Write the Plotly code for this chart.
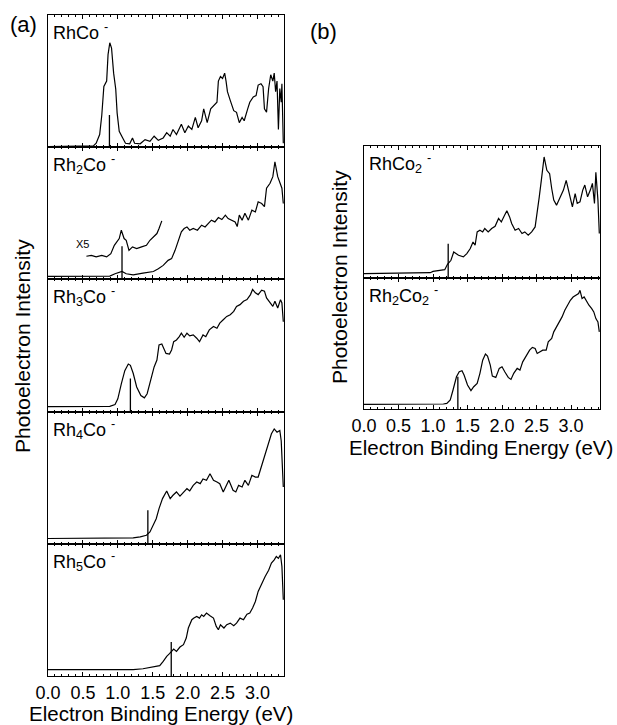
import plotly.graph_objects as go

# ---------------- data (eV, normalised intensity within each panel) ----------------
rhco_e = [0.0, 0.3, 0.5, 0.6, 0.65, 0.69, 0.74, 0.77, 0.80, 0.84, 0.86, 0.885, 0.91, 0.94, 0.97, 0.99, 1.02,
          1.07, 1.11, 1.17, 1.21, 1.24, 1.32, 1.39, 1.46, 1.52, 1.58, 1.65, 1.70, 1.75, 1.79, 1.84, 1.91,
          1.96, 2.01, 2.06, 2.11, 2.15, 2.20, 2.23, 2.28, 2.33, 2.37, 2.42, 2.44, 2.47, 2.50, 2.53, 2.55,
          2.57, 2.61, 2.66, 2.70, 2.74, 2.78, 2.81, 2.86, 2.89, 2.94, 2.98, 3.01, 3.05, 3.08, 3.10, 3.13,
          3.16, 3.19, 3.22, 3.24, 3.26, 3.28, 3.30, 3.32, 3.34, 3.35, 3.37]
rhco_i = [0.005, 0.008, 0.012, 0.008, 0.01, 0.03, 0.096, 0.24, 0.46, 0.50, 0.70, 0.79, 0.75, 0.56, 0.44, 0.26,
          0.12, 0.07, 0.03, 0.026, 0.07, 0.03, 0.026, 0.057, 0.044, 0.083, 0.052, 0.07, 0.11, 0.083, 0.134,
          0.096, 0.173, 0.11, 0.16, 0.134, 0.225, 0.147, 0.2, 0.29, 0.186, 0.29, 0.315, 0.34, 0.50, 0.535,
          0.52, 0.56, 0.50, 0.42, 0.354, 0.276, 0.264, 0.186, 0.225, 0.2, 0.29, 0.34, 0.38, 0.39, 0.47, 0.48,
          0.457, 0.29, 0.264, 0.444, 0.548, 0.50, 0.56, 0.42, 0.50, 0.134, 0.444, 0.34, 0.48, 0.03]

rh2co_e = [0.0, 0.5, 0.885, 0.96, 1.06, 1.12, 1.22, 1.36, 1.51, 1.58, 1.65, 1.72, 1.77, 1.82, 1.87, 1.91, 1.95,
           1.99, 2.03, 2.08, 2.14, 2.20, 2.25, 2.30, 2.34, 2.39, 2.44, 2.49, 2.54, 2.58, 2.63, 2.68, 2.71,
           2.74, 2.78, 2.82, 2.87, 2.92, 2.97, 3.01, 3.06, 3.10, 3.13, 3.18, 3.22, 3.25, 3.29, 3.33, 3.35, 3.37]
rh2co_i = [0.023, 0.023, 0.025, 0.043, 0.06, 0.043, 0.035, 0.048, 0.06, 0.081, 0.106, 0.144, 0.157, 0.22, 0.296,
           0.36, 0.385, 0.397, 0.372, 0.385, 0.372, 0.41, 0.397, 0.423, 0.448, 0.435, 0.468, 0.453, 0.486,
           0.46, 0.448, 0.435, 0.40, 0.486, 0.448, 0.50, 0.448, 0.524, 0.51, 0.587, 0.574, 0.55, 0.69, 0.727,
           0.777, 0.89, 0.777, 0.727, 0.69, 0.574]

rh2co_x5_e = [0.55, 0.62, 0.69, 0.77, 0.84, 0.90, 0.95, 0.98, 1.02, 1.05, 1.09, 1.12, 1.16, 1.21, 1.27, 1.34,
              1.41, 1.46, 1.51, 1.56, 1.59, 1.63]
rh2co_x5_i = [0.175, 0.182, 0.17, 0.182, 0.17, 0.195, 0.258, 0.284, 0.309, 0.372, 0.309, 0.296, 0.22, 0.246,
              0.233, 0.246, 0.258, 0.296, 0.32, 0.347, 0.385, 0.443]

rh3co_e = [0.0, 0.5, 0.81, 0.885, 0.96, 1.00, 1.05, 1.10, 1.15, 1.18, 1.22, 1.27, 1.33, 1.38, 1.42, 1.47, 1.52,
           1.56, 1.59, 1.63, 1.66, 1.69, 1.74, 1.77, 1.80, 1.84, 1.88, 1.91, 1.95, 1.99, 2.03, 2.08, 2.13,
           2.17, 2.22, 2.26, 2.31, 2.37, 2.42, 2.46, 2.51, 2.56, 2.61, 2.66, 2.70, 2.75, 2.80, 2.85, 2.90,
           2.93, 2.97, 3.01, 3.06, 3.10, 3.13, 3.18, 3.22, 3.25, 3.29, 3.33, 3.35, 3.37]
rh3co_i = [0.038, 0.038, 0.038, 0.04, 0.053, 0.097, 0.21, 0.31, 0.36, 0.35, 0.29, 0.186, 0.122, 0.104, 0.135,
           0.237, 0.338, 0.39, 0.504, 0.511, 0.478, 0.44, 0.435, 0.466, 0.529, 0.542, 0.567, 0.593, 0.562,
           0.593, 0.573, 0.58, 0.555, 0.529, 0.58, 0.567, 0.618, 0.644, 0.631, 0.669, 0.695, 0.72, 0.733,
           0.758, 0.796, 0.809, 0.835, 0.847, 0.885, 0.924, 0.898, 0.885, 0.919, 0.911, 0.86, 0.822, 0.796,
           0.835, 0.784, 0.847, 0.822, 0.68]

rh4co_e = [0.0, 0.6, 1.22, 1.32, 1.41, 1.46, 1.51, 1.55, 1.59, 1.64, 1.70, 1.75, 1.79, 1.84, 1.89, 1.94, 1.99,
           2.03, 2.08, 2.13, 2.18, 2.22, 2.27, 2.32, 2.37, 2.42, 2.46, 2.51, 2.56, 2.59, 2.65, 2.69, 2.73,
           2.78, 2.82, 2.87, 2.92, 2.97, 3.01, 3.04, 3.09, 3.13, 3.17, 3.20, 3.24, 3.28, 3.32, 3.34, 3.37]
rh4co_i = [0.04, 0.04, 0.045, 0.053, 0.065, 0.09, 0.14, 0.19, 0.266, 0.342, 0.40, 0.342, 0.367, 0.392, 0.36,
           0.392, 0.417, 0.40, 0.442, 0.467, 0.455, 0.49, 0.48, 0.53, 0.48, 0.467, 0.455, 0.392, 0.442, 0.48,
           0.405, 0.392, 0.442, 0.43, 0.48, 0.442, 0.518, 0.505, 0.505, 0.555, 0.643, 0.706, 0.769, 0.832,
           0.869, 0.844, 0.857, 0.78, 0.43]

rh5co_e = [0.0, 0.7, 1.22, 1.36, 1.51, 1.60, 1.65, 1.70, 1.74, 1.77, 1.80, 1.84, 1.89, 1.94, 1.98, 2.01, 2.06,
           2.09, 2.13, 2.17, 2.20, 2.23, 2.27, 2.32, 2.37, 2.41, 2.44, 2.47, 2.52, 2.56, 2.61, 2.66, 2.70,
           2.75, 2.80, 2.85, 2.89, 2.93, 2.97, 3.01, 3.06, 3.11, 3.16, 3.20, 3.24, 3.27, 3.30, 3.33, 3.35, 3.37]
rh5co_i = [0.048, 0.046, 0.048, 0.055, 0.068, 0.078, 0.11, 0.149, 0.169, 0.186, 0.204, 0.186, 0.219, 0.237,
           0.287, 0.363, 0.426, 0.438, 0.451, 0.438, 0.463, 0.451, 0.476, 0.456, 0.438, 0.375, 0.35, 0.388,
           0.363, 0.388, 0.40, 0.38, 0.40, 0.438, 0.426, 0.468, 0.476, 0.514, 0.564, 0.64, 0.703, 0.753,
           0.80, 0.854, 0.879, 0.904, 0.89, 0.917, 0.829, 0.577]

rhco2_e = [0.0, 0.6, 0.96, 1.00, 1.10, 1.17, 1.21, 1.26, 1.30, 1.37, 1.44, 1.49, 1.54, 1.58, 1.61, 1.64, 1.68,
           1.72, 1.75, 1.80, 1.85, 1.90, 1.95, 1.99, 2.03, 2.07, 2.11, 2.14, 2.19, 2.24, 2.29, 2.33, 2.38,
           2.43, 2.48, 2.51, 2.54, 2.57, 2.61, 2.65, 2.69, 2.72, 2.75, 2.79, 2.84, 2.89, 2.93, 2.96, 3.00,
           3.02, 3.06, 3.09, 3.13, 3.17, 3.20, 3.24, 3.28, 3.31, 3.34, 3.36, 3.39, 3.41]
rhco2_i = [0.033, 0.035, 0.04, 0.05, 0.058, 0.063, 0.104, 0.134, 0.197, 0.172, 0.16, 0.185, 0.223, 0.273, 0.248,
           0.349, 0.362, 0.349, 0.375, 0.349, 0.375, 0.392, 0.451, 0.425, 0.468, 0.509, 0.463, 0.413, 0.362,
           0.375, 0.337, 0.349, 0.324, 0.349, 0.387, 0.489, 0.615, 0.742, 0.917, 0.816, 0.79, 0.678, 0.59,
           0.552, 0.615, 0.666, 0.74, 0.678, 0.59, 0.539, 0.64, 0.565, 0.577, 0.666, 0.704, 0.615, 0.666,
           0.717, 0.565, 0.80, 0.59, 0.337]

rh2co2_e = [0.0, 0.6, 1.15, 1.20, 1.25, 1.29, 1.34, 1.38, 1.42, 1.45, 1.50, 1.55, 1.59, 1.64, 1.68, 1.72, 1.76,
            1.79, 1.83, 1.86, 1.91, 1.96, 2.00, 2.04, 2.09, 2.13, 2.17, 2.22, 2.26, 2.30, 2.34, 2.40, 2.44,
            2.48, 2.51, 2.55, 2.59, 2.64, 2.67, 2.72, 2.75, 2.79, 2.83, 2.87, 2.91, 2.95, 2.99, 3.03, 3.07,
            3.11, 3.13, 3.16, 3.19, 3.23, 3.26, 3.30, 3.33, 3.36, 3.39, 3.41]
rh2co2_i = [0.036, 0.036, 0.038, 0.043, 0.069, 0.145, 0.246, 0.284, 0.292, 0.259, 0.183, 0.14, 0.17, 0.195,
            0.272, 0.373, 0.419, 0.404, 0.335, 0.251, 0.241, 0.31, 0.322, 0.284, 0.241, 0.226, 0.272, 0.31,
            0.297, 0.36, 0.398, 0.449, 0.47, 0.462, 0.424, 0.437, 0.449, 0.449, 0.513, 0.538, 0.589, 0.627,
            0.665, 0.703, 0.754, 0.792, 0.83, 0.855, 0.868, 0.881, 0.906, 0.843, 0.855, 0.817, 0.792, 0.766,
            0.741, 0.69, 0.665, 0.589]

# vertical marker (stick) energies and heights
stick_e = [0.88, 1.06, 1.18, 1.43, 1.765, 1.22, 1.36]
stick_h = [0.244, 0.25, 0.25, 0.254, 0.257, 0.26, 0.246]

labels = ["RhCo <sup>-</sup>", "Rh<sub>2</sub>Co <sup>-</sup>", "Rh<sub>3</sub>Co <sup>-</sup>",
          "Rh<sub>4</sub>Co <sup>-</sup>", "Rh<sub>5</sub>Co <sup>-</sup>",
          "RhCo<sub>2</sub> <sup>-</sup>", "Rh<sub>2</sub>Co<sub>2</sub> <sup>-</sup>"]
tick_vals = [0.0, 0.5, 1.0, 1.5, 2.0, 2.5, 3.0]
tick_text = ["0.0", "0.5", "1.0", "1.5", "2.0", "2.5", "3.0"]
xtitle = "Electron Binding Energy (eV)"
ytitle = "Photoelectron Intensity"

spectra = [(rhco_e, rhco_i), (rh2co_e, rh2co_i), (rh3co_e, rh3co_i), (rh4co_e, rh4co_i),
           (rh5co_e, rh5co_i), (rhco2_e, rhco2_i), (rh2co2_e, rh2co2_i)]

# ---------------- layout geometry (pixels) ----------------
W, H = 617, 725
FONT = "Liberation Sans, Arial, sans-serif"

def px(x):
    return x / W

def py(y):
    return 1 - y / H

a_left, a_right = 48, 284
a_top, a_bot = 15, 676
a_h = (a_bot - a_top) / 5
b_left, b_right = 364, 600
b_top, b_mid, b_bot = 146, 278, 409

panels = []  # (x0,x1,ytop,ybot,range_max, bottom?)
for k in range(5):
    panels.append((a_left, a_right, a_top + k * a_h, a_top + (k + 1) * a_h, 3.38, k == 4))
panels.append((b_left, b_right, b_top, b_mid, 3.42, False))
panels.append((b_left, b_right, b_mid, b_bot, 3.42, True))

fig = go.Figure()
layout = {}
annotations = []
for i, (x0, x1, yt, yb, rmax, bottom) in enumerate(panels):
    n = i + 1
    xa = "x" if n == 1 else f"x{n}"
    ya = "y" if n == 1 else f"y{n}"
    e, v = spectra[i]
    fig.add_trace(go.Scatter(x=e, y=v, mode="lines", xaxis=xa, yaxis=ya,
                             line=dict(color="black", width=1.2), showlegend=False, hoverinfo="skip"))
    fig.add_trace(go.Scatter(x=[stick_e[i], stick_e[i]], y=[0, stick_h[i]], mode="lines", xaxis=xa, yaxis=ya,
                             line=dict(color="black", width=1.3), showlegend=False, hoverinfo="skip"))
    if n == 2:
        fig.add_trace(go.Scatter(x=rh2co_x5_e, y=rh2co_x5_i, mode="lines", xaxis=xa, yaxis=ya,
                                 line=dict(color="black", width=1.2), showlegend=False, hoverinfo="skip"))
        annotations.append(dict(x=0.5, y=0.27, xref=xa, yref=ya, text="X5", showarrow=False,
                                font=dict(family=FONT, size=11, color="black")))
    xkey = "xaxis" if n == 1 else f"xaxis{n}"
    ykey = "yaxis" if n == 1 else f"yaxis{n}"
    layout[xkey] = dict(domain=[px(x0), px(x1)], anchor=ya, range=[0, rmax], automargin=False,
                        showline=True, linecolor="black", linewidth=1, mirror="ticks",
                        ticks="inside", ticklen=4, tickwidth=1, tickcolor="black",
                        tickvals=tick_vals, ticktext=tick_text, showticklabels=bottom,
                        tickfont=dict(family=FONT, size=18, color="black"),
                        minor=dict(ticks="inside", ticklen=2, dtick=0.1, tick0=0, tickcolor="black",
                                   showgrid=False),
                        showgrid=False, zeroline=False, fixedrange=True)
    layout[ykey] = dict(domain=[py(yb), py(yt)], anchor=xa, range=[0, 1], automargin=False,
                        showline=True, linecolor="black", linewidth=1, mirror=True,
                        ticks="", showticklabels=False, showgrid=False, zeroline=False, fixedrange=True)
    annotations.append(dict(x=px(x0 + 3), y=py(yt + 3), xref="paper", yref="paper", text=labels[i],
                            xanchor="left", yanchor="top", showarrow=False,
                            font=dict(family=FONT, size=18, color="black")))

# panel letters
annotations.append(dict(x=px(8), y=py(24), xref="paper", yref="paper", text="(a)", xanchor="left",
                        yanchor="middle", showarrow=False, font=dict(family=FONT, size=22, color="black")))
annotations.append(dict(x=px(308), y=py(31), xref="paper", yref="paper", text="(b)", xanchor="left",
                        yanchor="middle", showarrow=False, font=dict(family=FONT, size=22, color="black")))
# axis titles
annotations.append(dict(x=px(22), y=py(346), xref="paper", yref="paper", text=ytitle, textangle=-90,
                        xanchor="center", yanchor="middle", showarrow=False,
                        font=dict(family=FONT, size=21, color="black")))
annotations.append(dict(x=px(339), y=py(277), xref="paper", yref="paper", text=ytitle, textangle=-90,
                        xanchor="center", yanchor="middle", showarrow=False,
                        font=dict(family=FONT, size=21, color="black")))
annotations.append(dict(x=px(161), y=py(713), xref="paper", yref="paper", text=xtitle,
                        xanchor="center", yanchor="middle", showarrow=False,
                        font=dict(family=FONT, size=20.5, color="black")))
annotations.append(dict(x=px(481), y=py(447), xref="paper", yref="paper", text=xtitle,
                        xanchor="center", yanchor="middle", showarrow=False,
                        font=dict(family=FONT, size=20.5, color="black")))

fig.update_layout(width=W, height=H, margin=dict(l=0, r=0, t=0, b=0, pad=0, autoexpand=False),
                  paper_bgcolor="white", plot_bgcolor="white", annotations=annotations, **layout)
fig.write_html("out.html")
